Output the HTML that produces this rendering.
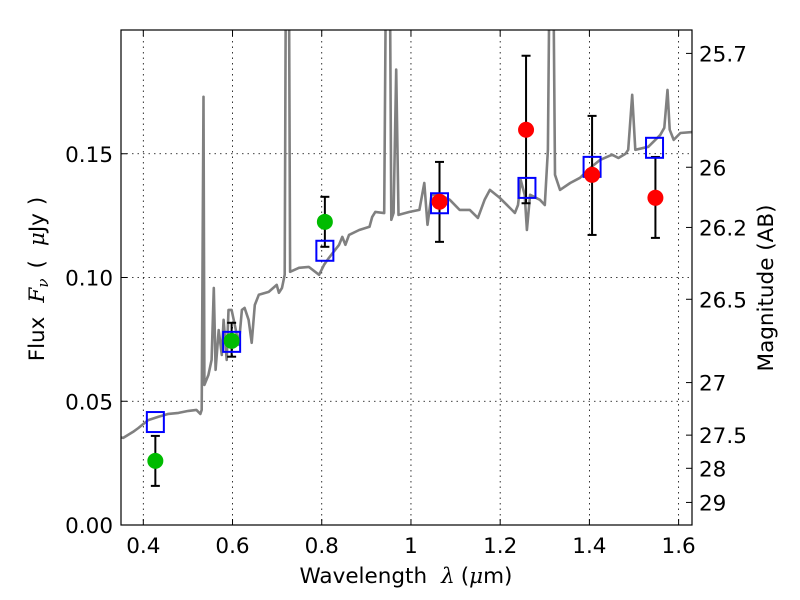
<!DOCTYPE html>
<html><head><meta charset="utf-8"><style>
body{margin:0;background:#fff}
svg{display:block}
text{font-family:"DejaVu Sans","Liberation Sans",sans-serif;fill:#000}
</style></head><body>
<svg id="chart" width="800" height="600">
<defs><clipPath id="clip"><rect x="121" y="30" width="571" height="495"/></clipPath></defs>
<rect x="0" y="0" width="800" height="600" fill="#fff"/>
<g id="grid"></g>
<g id="plot" clip-path="url(#clip)"></g>
<g id="axes"></g>
</svg>
<script>
const specLam=[0.344,0.355,0.366,0.377,0.389,0.400,0.411,0.434,0.456,0.479,0.501,0.519,0.528,0.531,0.535,0.537,0.546,0.553,0.558,0.562,0.569,0.576,0.580,0.587,0.591,0.598,0.605,0.614,0.621,0.627,0.636,0.643,0.650,0.659,0.681,0.699,0.704,0.711,0.717,0.720,0.726,0.729,0.749,0.771,0.794,0.805,0.816,0.839,0.846,0.853,0.861,0.884,0.907,0.913,0.920,0.940,0.945,0.952,0.956,0.961,0.967,0.972,0.997,1.019,1.030,1.037,1.046,1.064,1.087,1.109,1.132,1.150,1.165,1.177,1.199,1.222,1.233,1.240,1.246,1.255,1.260,1.267,1.289,1.300,1.307,1.312,1.318,1.323,1.334,1.357,1.379,1.402,1.424,1.451,1.465,1.481,1.487,1.496,1.503,1.532,1.559,1.568,1.575,1.580,1.589,1.604,1.631];
const specFlux=[0.0356,0.0352,0.0364,0.0376,0.0392,0.0408,0.0424,0.0437,0.0449,0.0453,0.0461,0.0465,0.0449,0.0465,0.173,0.0566,0.0606,0.0667,0.0958,0.0627,0.0788,0.0687,0.0829,0.0667,0.0869,0.0869,0.0808,0.0728,0.0869,0.0877,0.0829,0.0736,0.0889,0.0930,0.0942,0.0970,0.0938,0.0958,0.1011,0.25,0.25,0.1023,0.1039,0.1043,0.1011,0.1051,0.1079,0.1132,0.1164,0.1132,0.1172,0.1192,0.1205,0.1245,0.1265,0.1260,0.25,0.25,0.1233,0.1261,0.184,0.1253,0.1265,0.1273,0.1382,0.1213,0.1334,0.1334,0.1314,0.1273,0.1273,0.1241,0.1314,0.1354,0.1322,0.1281,0.1261,0.1293,0.1394,0.1334,0.1192,0.1334,0.1314,0.1293,0.1516,0.25,0.25,0.1415,0.1354,0.1382,0.1403,0.1443,0.1475,0.1496,0.1483,0.1500,0.1516,0.1738,0.1516,0.1528,0.1576,0.1605,0.1758,0.1597,0.1556,0.1584,0.1588];
const modelLam=[0.427,0.598,0.807,1.064,1.260,1.406,1.546];
const modelFlux=[0.0416,0.074,0.1108,0.130,0.1362,0.1447,0.1524];
const obsLam=[0.427,0.598,0.807,1.064,1.258,1.406,1.548];
const obsFlux=[0.0259,0.0744,0.1225,0.1306,0.1597,0.1415,0.1322];
const obsLow=[0.0158,0.068,0.1124,0.1144,0.130,0.1172,0.116];
const obsHigh=[0.036,0.0817,0.1326,0.1467,0.1896,0.1653,0.1487];
const obsColor=['#00bb00','#00bb00','#00bb00','#ff0000','#ff0000','#ff0000','#ff0000'];
const xTicks=[0.4,0.6,0.8,1.0,1.2,1.4,1.6];
const xTickLabels=['0.4','0.6','0.8','1','1.2','1.4','1.6'];
const yTicks=[0,0.05,0.10,0.15];
const yTickLabels=['0.00','0.05','0.10','0.15'];
const magTicks=[25.7,26,26.2,26.5,27,27.5,28,29];
const magTickLabels=['25.7','26','26.2','26.5','27','27.5','28','29'];

const X0=121,X1=692,Y0=525,Y1=30,xmin=0.35,xmax=1.63,ymin=0,ymax=0.2;
const sx=v=>X0+(v-xmin)/(xmax-xmin)*(X1-X0);
const sy=v=>Y0-(v-ymin)/(ymax-ymin)*(Y0-Y1);
const magToFlux=m=>Math.pow(10,(23.9-m)/2.5);
const NS='http://www.w3.org/2000/svg';
function mk(tag,attrs,parent){const e=document.createElementNS(NS,tag);for(const k in attrs)e.setAttribute(k,attrs[k]);parent.appendChild(e);return e;}
const grid=document.getElementById('grid'),plot=document.getElementById('plot'),axes=document.getElementById('axes');

xTicks.forEach((t,i)=>{
  const x=sx(t);
  const g=mk('line',{x1:x,x2:x,y1:Y1,y2:Y0,stroke:'#000','stroke-width':0.8,'stroke-dasharray':'1.5,4'},grid);
  
  
  mk('line',{x1:x,x2:x,y1:Y0,y2:Y0-6,stroke:'#000','stroke-width':1},axes);
  mk('line',{x1:x,x2:x,y1:Y1,y2:Y1+6,stroke:'#000','stroke-width':1},axes);
  const tx=mk('text',{x:x,y:553,'font-size':21.5,'text-anchor':'middle'},axes);
  tx.textContent=xTickLabels[i];
  
  
});
yTicks.forEach((t,i)=>{
  const y=sy(t);
  if(t>0){const g=mk('line',{x1:X0,x2:X1,y1:y,y2:y,stroke:'#000','stroke-width':0.8,'stroke-dasharray':'1.5,4'},grid);
  
  }
  mk('line',{x1:X0,x2:X0+6,y1:y,y2:y,stroke:'#000','stroke-width':1},axes);
  const tx=mk('text',{x:113,y:y+8,'font-size':21.5,'text-anchor':'end'},axes);
  tx.textContent=yTickLabels[i];
  
  
});
magTicks.forEach((m,i)=>{
  const y=sy(magToFlux(m));
  mk('line',{x1:X1-6,x2:X1,y1:y,y2:y,stroke:'#000','stroke-width':1},axes);
  const tx=mk('text',{x:699,y:y+8,'font-size':21.5,'text-anchor':'start'},axes);
  tx.textContent=magTickLabels[i];
  
  
});

const pts=specLam.map((l,i)=>sx(l).toFixed(1)+','+sy(specFlux[i]).toFixed(1)).join(' ');
const sp=mk('polyline',{points:pts,fill:'none',stroke:'#808080','stroke-width':2.6,'stroke-linejoin':'round'},plot);



obsLam.forEach((l,i)=>{
  const x=sx(l);
  const eb=mk('g',{},plot);
  
  
  mk('line',{x1:x,x2:x,y1:sy(obsLow[i]),y2:sy(obsHigh[i]),stroke:'#000','stroke-width':2},eb);
  mk('line',{x1:x-4.5,x2:x+4.5,y1:sy(obsLow[i]),y2:sy(obsLow[i]),stroke:'#000','stroke-width':2},eb);
  mk('line',{x1:x-4.5,x2:x+4.5,y1:sy(obsHigh[i]),y2:sy(obsHigh[i]),stroke:'#000','stroke-width':2},eb);
});
modelLam.forEach((l,i)=>{
  const r=mk('rect',{x:sx(l)-8.5,y:sy(modelFlux[i])-10,width:17,height:20,fill:'none',stroke:'#0000ff','stroke-width':2},plot);
  
  
});
obsLam.forEach((l,i)=>{
  const c=mk('circle',{cx:sx(l),cy:sy(obsFlux[i]),r:8,fill:obsColor[i]},plot);
  
  
});

const fr=mk('rect',{x:X0,y:Y1,width:X1-X0,height:Y0-Y1,fill:'none',stroke:'#000','stroke-width':1.2},axes);


</script>
<svg style="position:absolute;left:0;top:0" width="800" height="600">
<text x="406" y="583" font-size="21.5" text-anchor="middle">Wavelength<tspan dx="14" font-style="italic" font-family="DejaVu Serif">λ</tspan><tspan dx="6">(</tspan><tspan font-style="italic" font-family="DejaVu Serif">μ</tspan>m)</text>
<text transform="translate(44,279) rotate(-90)" font-size="21.5" text-anchor="middle">Flux<tspan dx="14" font-style="italic" font-family="DejaVu Serif">F</tspan><tspan font-size="15" dy="4" font-style="italic" font-family="DejaVu Serif">ν</tspan><tspan dy="-4" dx="10">(</tspan><tspan dx="14" font-style="italic" font-family="DejaVu Serif">μ</tspan>Jy<tspan dx="8">)</tspan></text>
<text transform="translate(773,288) rotate(-90)" font-size="21.5" text-anchor="middle">Magnitude (AB)</text>
</svg>
</body></html>
